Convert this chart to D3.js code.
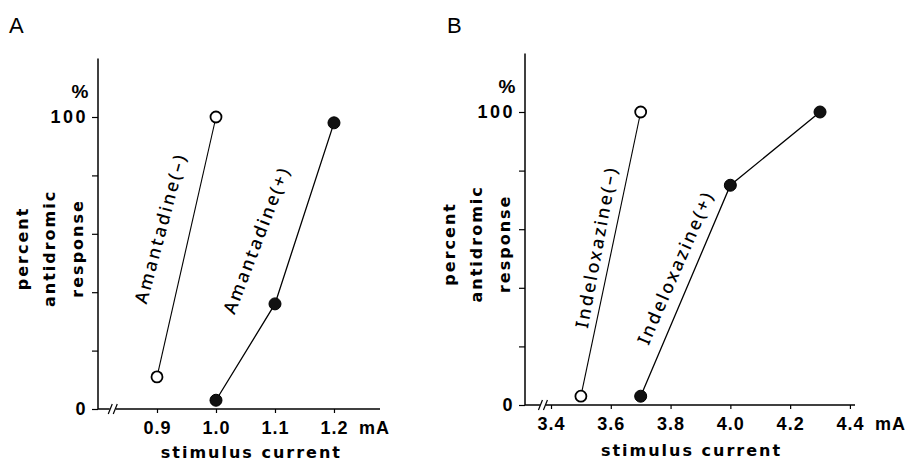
<!DOCTYPE html>
<head>
    <meta charset="utf-8">
    <title>Antidromic response vs stimulus current</title>
    <style>
        body { margin: 0; background: #fff; }
        svg { display: block; font-family: "DejaVu Sans", sans-serif; }
    </style>
</head>
<body>

<svg width="909" height="462"></svg>

<script src="https://d3js.org/d3.v7.min.js"></script>

<script>
    // data (percent antidromic response per stimulus current, mA)
    var amantadineMinusX = [0.9, 1.0],
        amantadineMinusY = [11, 100];
    var amantadinePlusX = [1.0, 1.1, 1.2],
        amantadinePlusY = [3, 36, 98];
    var indeloxazineMinusX = [3.5, 3.7],
        indeloxazineMinusY = [3, 100];
    var indeloxazinePlusX = [3.7, 4.0, 4.3],
        indeloxazinePlusY = [3, 75, 100];

    var ticksA = [0.9, 1.0, 1.1, 1.2],
        ticksB = [3.4, 3.6, 3.8, 4.0, 4.2, 4.4];
    var yTicks = [0, 20, 40, 60, 80, 100];
    var yLabeled = [0, 100];

    var svg = d3.select("svg");
    var tickFont = "'Liberation Sans', Arial, sans-serif";
    var nameFont = "'Noto Sans', 'Open Sans', sans-serif";

    // zip two arrays into points
    function pts(xs, ys) {
        return xs.map(function(x, i) { return { x: x, y: ys[i] }; });
    }

    var panels = [
        {
            letter: "A", letterX: 9,
            xDomain: [0.8, 1.278], xRange: [98, 380],
            yRange: [409, 117],
            ticks: ticksA, fmt: d3.format(".1f"),
            brk: 0.825,
            xTitleAt: 1.06, xTitleY: 458,
            series: [
                { name: "Amantadine(\u2013)", pts: pts(amantadineMinusX, amantadineMinusY), open: true,
                  lx: 0.905, ly: 62, ang: -75 },
                { name: "Amantadine(+)", pts: pts(amantadinePlusX, amantadinePlusY), open: false,
                  lx: 1.068, ly: 58, ang: -69 }
            ]
        },
        {
            letter: "B", letterX: 447,
            xDomain: [3.313, 4.417], xRange: [525, 855],
            yRange: [405, 112],
            ticks: ticksB, fmt: d3.format(".1f"),
            brk: 3.373,
            xTitleAt: 3.87, xTitleY: 456,
            series: [
                { name: "Indeloxazine(\u2013)", pts: pts(indeloxazineMinusX, indeloxazineMinusY), open: true,
                  lx: 3.55, ly: 54, ang: -79.5 },
                { name: "Indeloxazine(+)", pts: pts(indeloxazinePlusX, indeloxazinePlusY), open: false,
                  lx: 3.815, ly: 47, ang: -66.5 }
            ]
        }
    ];

    panels.forEach(drawPanel);

    function drawPanel(p) {
        var x = d3.scaleLinear().domain(p.xDomain).range(p.xRange);
        // y axis runs up to 120 %
        var y = d3.scaleLinear().domain([0, 100]).range(p.yRange);
        var y0 = y(0), x0 = x(p.xDomain[0]);

        var g = svg.append("g");

        // panel letter
        g.append("text")
            .attr("x", p.letterX).attr("y", 33)
            .attr("font-family", tickFont)
            .attr("font-size", 22)
            .text(p.letter);

        // y axis
        var yAxis = g.append("g")
            .attr("transform", "translate(" + x0 + ",0)")
            .call(d3.axisLeft(y.copy().domain([0, 120]).range([y0, y(120)]))
                .tickValues(yTicks)
                .tickSize(6)
                .tickPadding(4)
                .tickFormat(function(d) { return yLabeled.indexOf(d) >= 0 ? d : ""; }));
        yAxis.select(".domain").attr("d", "M0," + y0 + "V" + y(120)).attr("stroke-width", 1.5);
        yAxis.selectAll(".tick line").attr("stroke-width", 1.2);
        yAxis.selectAll(".tick text")
            .attr("font-family", tickFont)
            .attr("font-size", 18).attr("font-weight", "bold")
            .attr("letter-spacing", 2.5).attr("fill", "#000");

        // percent sign above 100
        g.append("text")
            .attr("x", x0 - 18).attr("y", y(100) - 26)
            .attr("text-anchor", "middle").attr("dominant-baseline", "central")
            .attr("font-family", tickFont)
            .attr("font-size", 19).attr("font-weight", "bold")
            .text("%");

        // x axis
        var xAxis = g.append("g")
            .attr("transform", "translate(0," + y0 + ")")
            .call(d3.axisBottom(x)
                .tickValues(p.ticks)
                .tickSize(4)
                .tickPadding(8)
                .tickFormat(p.fmt));
        xAxis.select(".domain").attr("d", "M" + x0 + ",0H" + p.xRange[1]).attr("stroke-width", 1.5);
        xAxis.selectAll(".tick line").attr("stroke-width", 1.2);
        xAxis.selectAll(".tick text")
            .attr("font-family", tickFont)
            .attr("font-size", 18).attr("font-weight", "bold")
            .attr("letter-spacing", 1).attr("fill", "#000");

        // unit after the last tick label
        g.append("text")
            .attr("x", x(p.ticks[p.ticks.length - 1]) + 25)
            .attr("y", y0 + 12).attr("dy", "0.71em")
            .attr("font-family", tickFont)
            .attr("font-size", 18).attr("font-weight", "bold")
            .attr("letter-spacing", 1)
            .text("mA");

        // axis break marks
        var bx = x(p.brk);
        g.append("rect")
            .attr("x", bx - 3).attr("y", y0 - 2).attr("width", 6).attr("height", 4)
            .attr("fill", "#fff");
        [-2.5, 2.5].forEach(function(o) {
            g.append("line")
                .attr("x1", bx + o - 2).attr("y1", y0 + 5)
                .attr("x2", bx + o + 2).attr("y2", y0 - 5)
                .attr("stroke", "#000").attr("stroke-width", 1.2);
        });

        // x title
        g.append("text")
            .attr("x", x(p.xTitleAt)).attr("y", p.xTitleY)
            .attr("text-anchor", "middle")
            .attr("font-size", 16).attr("font-weight", "bold")
            .attr("letter-spacing", 2)
            .text("stimulus current");

        // y title, three lines
        var yTitle = ["percent", "antidromic", "response"],
            yOff = [-76, -49, -21];
        yTitle.forEach(function(t, i) {
            g.append("text")
                .attr("transform", "translate(" + (x0 + yOff[i]) + "," + y(55) + ") rotate(-90)")
                .attr("text-anchor", "middle").attr("dominant-baseline", "central")
                .attr("font-size", 16).attr("font-weight", "bold")
                .attr("letter-spacing", 2)
                .text(t);
        });

        var line = d3.line()
            .x(function(d) { return x(d.x); })
            .y(function(d) { return y(d.y); });

        p.series.forEach(function(s) {
            g.append("path")
                .datum(s.pts)
                .attr("fill", "none")
                .attr("stroke", "#000")
                .attr("stroke-width", s.open ? 1.1 : 1.3)
                .attr("d", line);

            g.selectAll(null)
                .data(s.pts)
                .enter().append("circle")
                    .attr("cx", function(d) { return x(d.x); })
                    .attr("cy", function(d) { return y(d.y); })
                    .attr("r", s.open ? 5.5 : 6)
                    .attr("fill", s.open ? "#fff" : "#111")
                    .attr("stroke", "#000")
                    .attr("stroke-width", s.open ? 1.8 : 1);

            // series name along its line
            g.append("text")
                .attr("transform", "translate(" + x(s.lx) + "," + y(s.ly) + ") rotate(" + s.ang + ")")
                .attr("text-anchor", "middle").attr("dominant-baseline", "central")
                .attr("font-family", nameFont)
                .attr("font-style", "normal")
                .attr("font-weight", 500)
                .attr("font-size", 18)
                .attr("letter-spacing", 2.3)
                .text(s.name);
        });
    }
</script>

</body>
